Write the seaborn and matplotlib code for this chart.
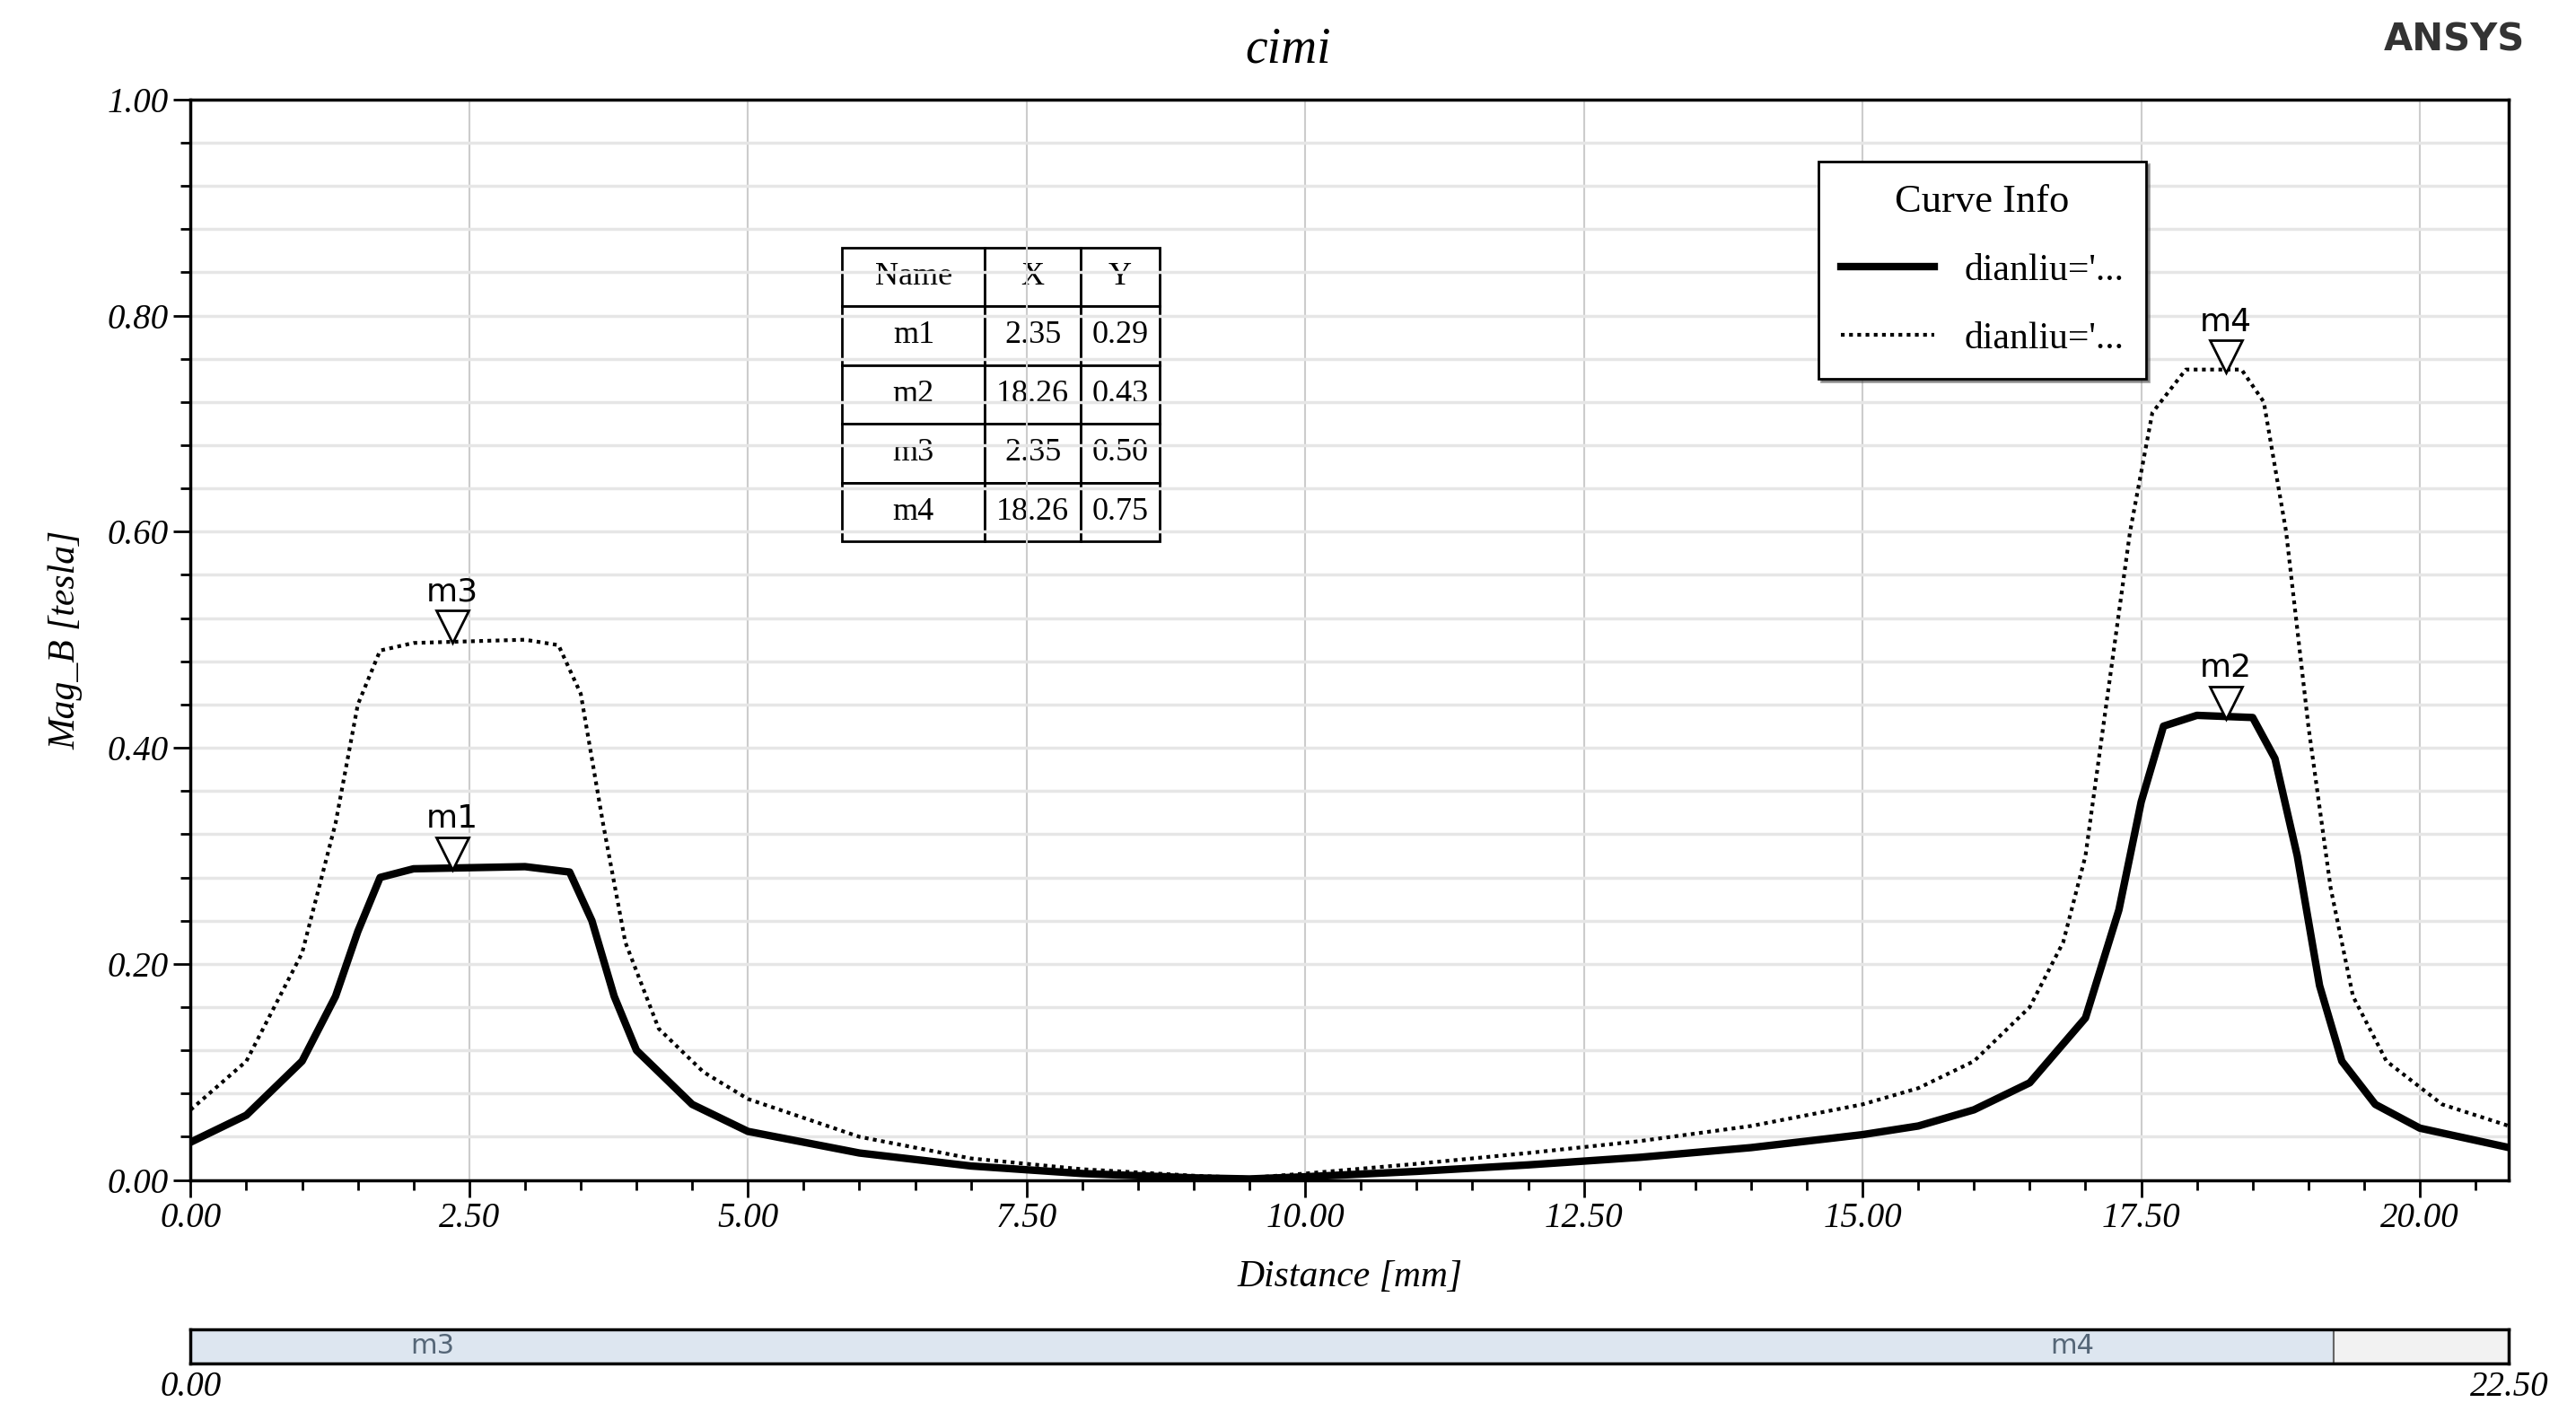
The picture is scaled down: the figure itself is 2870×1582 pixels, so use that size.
import seaborn as sns
import pandas as pd
import matplotlib.pyplot as plt
from matplotlib.ticker import MultipleLocator

# curve data
x1 = [0, 0.5, 1.0, 1.3, 1.5, 1.7, 2.0, 3.0, 3.4, 3.6, 3.8, 4.0, 4.5, 5.0, 6, 7, 8, 9, 9.5, 10, 11, 12, 13, 14, 15,
      15.5, 16, 16.5, 17, 17.3, 17.5, 17.7, 18.0, 18.5, 18.7, 18.9, 19.1, 19.3, 19.6, 20, 20.8]
y1 = [0.035, 0.06, 0.11, 0.17, 0.23, 0.28, 0.288, 0.29, 0.285, 0.24, 0.17, 0.12, 0.07, 0.045, 0.025, 0.013, 0.006,
      0.002, 0.001, 0.003, 0.008, 0.014, 0.021, 0.03, 0.042, 0.05, 0.065, 0.09, 0.15, 0.25, 0.35, 0.42, 0.43, 0.428,
      0.39, 0.3, 0.18, 0.11, 0.07, 0.048, 0.03]
x2 = [0, 0.5, 1.0, 1.3, 1.5, 1.7, 2.0, 3.0, 3.3, 3.5, 3.7, 3.9, 4.2, 4.6, 5.0, 6, 7, 8, 9, 9.5, 10, 11, 12, 13, 14,
      15, 15.5, 16, 16.5, 16.8, 17.0, 17.2, 17.4, 17.6, 17.9, 18.4, 18.6, 18.8, 19.0, 19.2, 19.4, 19.7, 20.2, 20.8]
y2 = [0.065, 0.11, 0.21, 0.33, 0.44, 0.49, 0.497, 0.50, 0.495, 0.45, 0.33, 0.22, 0.14, 0.10, 0.075, 0.04, 0.02, 0.01,
      0.004, 0.002, 0.006, 0.015, 0.025, 0.036, 0.05, 0.07, 0.085, 0.11, 0.16, 0.22, 0.30, 0.45, 0.60, 0.71, 0.75,
      0.75, 0.72, 0.60, 0.42, 0.27, 0.17, 0.11, 0.07, 0.05]

marker_names = ['m1', 'm2', 'm3', 'm4']
marker_x = [2.35, 18.26, 2.35, 18.26]
marker_y = [0.29, 0.43, 0.50, 0.75]

serif = 'Liberation Serif'

df = pd.concat([pd.DataFrame({'x': x1, 'y': y1, 'curve': 'a'}),
                pd.DataFrame({'x': x2, 'y': y2, 'curve': 'b'})])

fig = plt.figure(figsize=(28.7, 15.82), dpi=100)
ax = fig.add_axes([0.074, 0.169, 0.9, 0.761])

sns.lineplot(data=df[df.curve == 'a'], x='x', y='y', color='black', lw=6, ax=ax, label="dianliu='...")
sns.lineplot(data=df[df.curve == 'b'], x='x', y='y', color='black', lw=3, ls=(0, (1, 1.2)), ax=ax,
             label="dianliu='...")

ax.set_xlim(0, 20.8)
ax.set_ylim(0, 1.0)
ax.xaxis.set_major_locator(MultipleLocator(2.5))
ax.xaxis.set_minor_locator(MultipleLocator(0.5))
ax.yaxis.set_major_locator(MultipleLocator(0.2))
ax.yaxis.set_minor_locator(MultipleLocator(0.04))
ax.grid(which='major', axis='x', color='#cccccc', lw=1.5)
ax.grid(which='minor', axis='y', color='#e6e6e6', lw=2.5)
ax.grid(which='major', axis='y', color='#e6e6e6', lw=2.5)
ax.tick_params(which='major', length=14, width=2, direction='out')
ax.tick_params(which='minor', length=8, width=2, direction='out')
ax.set_xticklabels([f'{v:.2f}' for v in ax.get_xticks()], family=serif, style='italic', fontsize=28)
ax.set_yticklabels([f'{v:.2f}' for v in ax.get_yticks()], family=serif, style='italic', fontsize=28)
for s in ax.spines.values():
    s.set_linewidth(2.5)
ax.set_xlabel('Distance [mm]', family=serif, style='italic', fontsize=30, labelpad=20)
ax.set_ylabel('Mag_B [tesla]', family=serif, style='italic', fontsize=30, labelpad=20)
fig.text(0.5, 0.965, 'cimi', family=serif, style='italic', fontsize=40, ha='center', va='center')
fig.text(0.98, 0.972, 'ANSYS', fontweight='bold', fontsize=30, ha='right', va='center', color='#333333')

# markers
for n, mx, my in zip(marker_names, marker_x, marker_y):
    ax.plot(mx, my + 0.012, marker='v', ms=26, mfc='white', mec='black', mew=2)
    ax.text(mx, my + 0.03, n, ha='center', va='bottom', fontsize=26)

leg = ax.legend(title='Curve Info', loc='upper left', bbox_to_anchor=(0.694, 0.96), fancybox=False,
                framealpha=1, edgecolor='black', handlelength=2.5, borderpad=0.6, labelspacing=0.9,
                prop={'family': serif, 'size': 30}, shadow=True)
leg.get_title().set_fontfamily(serif)
leg.get_title().set_fontsize(32)
leg.get_frame().set_linewidth(2)

# marker table
cells = [[n, f'{mx:.2f}', f'{my:.2f}'] for n, mx, my in zip(marker_names, marker_x, marker_y)]
tab = ax.table(cellText=cells, colLabels=['Name', 'X', 'Y'], bbox=[0.281, 0.591, 0.137, 0.272],
               colWidths=[0.45, 0.3, 0.25], cellLoc='center')
tab.auto_set_font_size(False)
for c in tab.get_celld().values():
    c.set_linewidth(2)
    c.get_text().set_fontfamily(serif)
    c.get_text().set_fontsize(26)

# slider bar
bx = fig.add_axes([0.074, 0.04, 0.9, 0.024])
bx.barh(0, 20.8, height=1, color='#dde6f0', edgecolor='#666666', lw=1.5)
bx.barh(0, 22.5 - 20.8, left=20.8, height=1, color='#f2f2f2', edgecolor='#666666', lw=1.5)
bx.set_xlim(0, 22.5)
bx.set_ylim(-0.5, 0.5)
bx.set_yticks([])
bx.set_xticks([0, 22.5])
bx.set_xticklabels(['0.00', '22.50'], family=serif, style='italic', fontsize=28)
bx.tick_params(length=0, pad=6)
for s in bx.spines.values():
    s.set_linewidth(2.5)
for mx in [2.35, 18.26]:
    bx.text(mx, 0, 'm3' if mx < 10 else 'm4', ha='center', va='center', fontsize=22, color='#556677')

fig.savefig('out.png', dpi=100)
